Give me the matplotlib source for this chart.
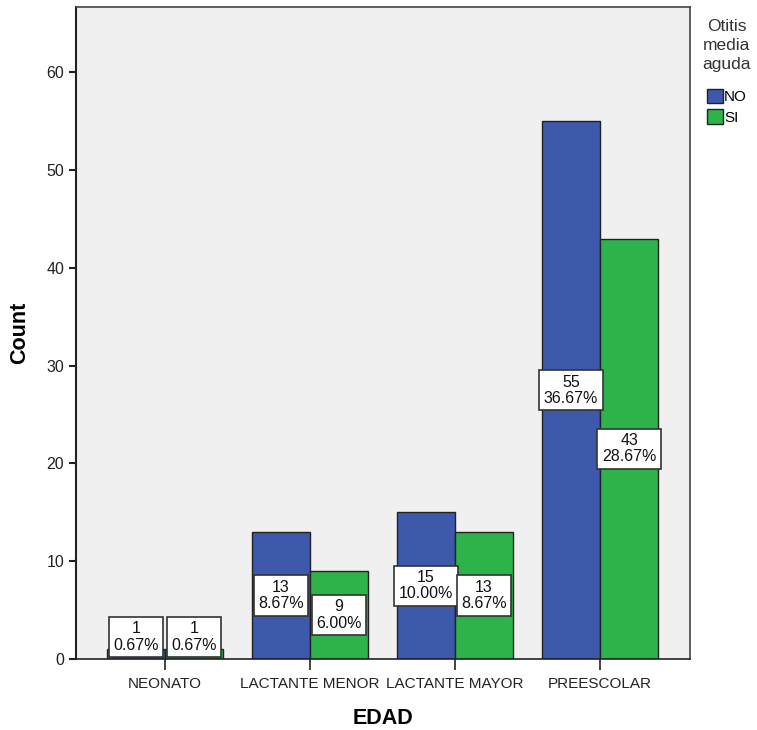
import numpy as np
import matplotlib.pyplot as plt
from matplotlib.patches import Patch

# datos
categorias = ['NEONATO', 'LACTANTE MENOR', 'LACTANTE MAYOR', 'PREESCOLAR']
no_counts = [1, 13, 15, 55]
si_counts = [1, 9, 13, 43]
no_pct = ['0.67%', '8.67%', '10.00%', '36.67%']
si_pct = ['0.67%', '6.00%', '8.67%', '28.67%']

plt.rcParams['font.family'] = ['Liberation Sans', 'DejaVu Sans']

azul = '#3E58AC'
verde = '#2EB34B'

fig = plt.figure(figsize=(7.57, 7.30), dpi=100)
ax = fig.add_axes([0.1004, 0.0973, 0.8111, 0.8931])
ax.set_facecolor('#F0F0F0')

x = np.arange(len(categorias))
w = 0.4
ax.bar(x - w / 2, no_counts, w, color=azul, edgecolor='#222222', linewidth=1, zorder=2)
ax.bar(x + w / 2, si_counts, w, color=verde, edgecolor='#222222', linewidth=1, zorder=2)

# etiquetas con conteo y porcentaje
def etiquetar(xs, vals, pcts):
    for xi, v, p in zip(xs, vals, pcts):
        ax.text(xi, max(v / 2, 2.25), '%d\n%s' % (v, p), ha='center', va='center',
                fontsize=11.5, linespacing=1.1, zorder=4, color='#111111',
                bbox=dict(boxstyle='square,pad=0.28', fc='white', ec='#333333', lw=1.2))

etiquetar(x - w / 2, no_counts, no_pct)
etiquetar(x + w / 2, si_counts, si_pct)

ax.set_xlim(-0.614, 3.62)
ax.set_ylim(0, 66.7)
ax.set_xticks(x)
ax.set_xticklabels(categorias, fontsize=11, color='#222222')
ax.set_yticks(np.arange(0, 61, 10))
ax.tick_params(axis='y', labelsize=11.5, length=5, width=1.5, colors='#222222')
ax.tick_params(axis='x', length=8, width=1.2, colors='#222222', pad=5)
for s in ax.spines.values():
    s.set_color('#444444')
    s.set_linewidth(1.2)
ax.spines['left'].set_color('#222222')
ax.spines['left'].set_linewidth(1.5)
ax.spines['bottom'].set_color('#222222')

ax.set_xlabel('EDAD', fontsize=15.5, fontweight='bold', labelpad=12)
ax.set_ylabel('Count', fontsize=15.5, fontweight='bold', labelpad=12)

handles = [Patch(facecolor=azul, edgecolor='#222222', label='NO'),
           Patch(facecolor=verde, edgecolor='#222222', label='SI')]
leg = fig.legend(handles=handles, title='Otitis\nmedia\naguda', loc='upper left',
                 bbox_to_anchor=(0.916, 0.987), frameon=False, fontsize=11,
                 title_fontsize=12.5, handlelength=1.05, handleheight=1.05,
                 handletextpad=0.1, labelspacing=0.35, borderpad=0.1)
leg.get_title().set_multialignment('center')
leg.get_title().set_linespacing(1.35)
leg.get_title().set_color('#333333')
leg._legend_box.sep = 12

fig.savefig('out.png', dpi=100)
